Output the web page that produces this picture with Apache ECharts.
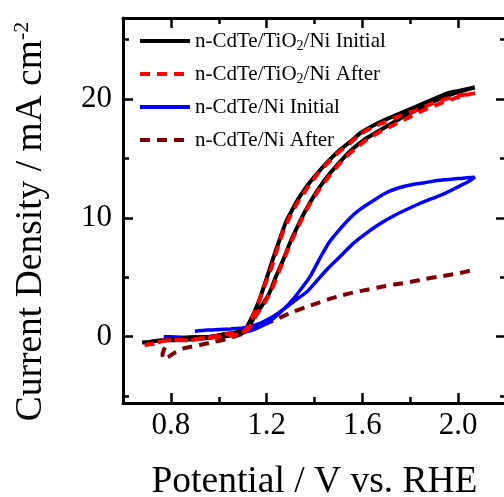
<!DOCTYPE html>
<html>
<head>
<meta charset="utf-8">
<script src="https://cdn.jsdelivr.net/npm/echarts@6/dist/echarts.min.js"></script>
<style>html,body{margin:0;padding:0;background:#fff}#c{width:504px;height:497px}</style>
</head>
<body>
<div id="c"></div>
<script>
// ---- data (Potential V vs RHE, Current density mA cm^-2) ----
const seriesNames = ['n-CdTe/TiO2/Ni Initial', 'n-CdTe/TiO2/Ni After', 'n-CdTe/Ni Initial', 'n-CdTe/Ni After'];
const xMajorTicks = [0.8, 1.2, 1.6, 2.0];
const xMinorTicks = [1.0, 1.4, 1.8, 2.2];
const yMajorTicks = [0, 10, 20];
const yMinorTicks = [-5, 5, 15, 25];

const tio2InitialData = [
  [0.68,-0.5],[0.72,-0.42],[0.76,-0.3],[0.81,-0.3],[0.86,-0.25],[0.91,-0.2],[0.96,-0.1],[1.01,0.0],[1.06,0.12],[1.10,0.3],
  [1.125,0.8],[1.15,1.7],[1.18,2.6],[1.21,3.6],[1.24,5.1],[1.27,6.5],[1.30,8.0],[1.33,9.3],[1.36,10.5],[1.40,11.9],
  [1.44,13.1],[1.48,14.1],[1.52,15.0],[1.56,15.8],[1.61,16.6],[1.66,17.2],[1.72,17.9],[1.78,18.6],[1.84,19.2],[1.90,19.8],
  [1.96,20.3],[2.02,20.7],[2.07,20.96],
  [2.01,20.7],[1.96,20.5],[1.90,20.0],[1.83,19.4],[1.76,18.8],[1.69,18.2],[1.64,17.7],[1.59,17.1],[1.55,16.4],[1.50,15.6],
  [1.45,14.6],[1.41,13.7],[1.37,12.7],[1.33,11.5],[1.30,10.4],[1.28,9.6],[1.255,8.2],[1.23,6.75],[1.20,4.9],[1.17,3.1],
  [1.145,1.9],[1.125,1.1],[1.11,0.55],[1.07,0.35],[1.02,0.2],[0.97,0.0],[0.93,-0.1],[0.88,-0.1],[0.83,-0.2],[0.78,-0.3],
  [0.74,-0.35],[0.70,-0.5]
];
const tio2AfterData = [
  [0.69,-0.7],[0.73,-0.6],[0.77,-0.35],[0.82,-0.25],[0.87,-0.3],[0.92,-0.15],[0.97,-0.05],[1.02,0.05],[1.07,0.15],[1.11,0.4],
  [1.135,1.0],[1.16,1.9],[1.19,2.8],[1.22,3.9],[1.25,5.4],[1.28,6.9],[1.31,8.3],[1.34,9.6],[1.37,10.8],[1.41,12.1],
  [1.45,13.2],[1.49,14.2],[1.53,15.1],[1.57,15.8],[1.62,16.6],[1.67,17.2],[1.73,17.8],[1.79,18.4],[1.85,19.0],[1.91,19.5],
  [1.97,19.95],[2.03,20.3],[2.07,20.5],
  [2.01,20.3],[1.95,20.0],[1.89,19.6],[1.82,19.0],[1.75,18.5],[1.69,18.0],[1.64,17.6],[1.59,17.0],[1.55,16.3],[1.50,15.5],
  [1.45,14.5],[1.41,13.6],[1.37,12.5],[1.33,11.3],[1.30,10.2],[1.27,8.9],[1.245,7.4],[1.22,5.8],[1.19,4.2],[1.165,2.8],
  [1.14,1.6],[1.12,0.8],[1.10,0.4],[1.05,0.25],[1.00,0.1],[0.95,-0.1],[0.90,-0.25],[0.85,-0.3],[0.80,-0.25],[0.75,-0.45],
  [0.70,-0.65]
];
const niInitialData = [
  [0.90,0.45],[0.95,0.55],[1.00,0.6],[1.05,0.65],[1.10,0.72],[1.13,0.85],[1.17,1.1],[1.21,1.5],[1.25,2.0],[1.29,2.6],
  [1.33,3.2],[1.37,3.8],[1.41,4.7],[1.45,5.6],[1.50,6.6],[1.56,7.8],[1.61,8.6],[1.67,9.45],[1.73,10.15],[1.78,10.65],
  [1.84,11.2],[1.89,11.6],[1.95,12.1],[2.00,12.6],[2.04,13.0],[2.07,13.4],
  [2.03,13.35],[1.98,13.25],[1.92,13.15],[1.86,12.95],[1.81,12.8],[1.75,12.5],[1.70,12.1],[1.65,11.5],[1.59,10.7],[1.55,10.0],
  [1.50,8.9],[1.46,7.9],[1.42,6.5],[1.38,5.0],[1.34,3.9],[1.30,2.9],[1.26,2.1],[1.22,1.4],[1.18,0.9],[1.14,0.55],
  [1.10,0.35],[1.05,0.2],[1.00,0.1],[0.95,0.0],[0.90,0.0],[0.85,-0.05],[0.80,0.0],[0.77,0.0]
];
const niAfterData = [
  [0.775,-0.9],[0.765,-1.5],[0.77,-1.9],[0.79,-1.7],[0.82,-1.3],[0.86,-0.95],[0.92,-0.7],[0.98,-0.45],[1.04,-0.15],[1.10,0.25],
  [1.17,0.85],[1.24,1.45],[1.30,2.0],[1.36,2.45],[1.41,2.8],[1.46,3.15],[1.51,3.45],[1.56,3.7],[1.62,3.95],[1.68,4.2],
  [1.74,4.4],[1.80,4.6],[1.86,4.85],[1.92,5.05],[1.98,5.25],[2.03,5.45],[2.07,5.65]
];

const FONT = 'Liberation Serif';
const chart = echarts.init(document.getElementById('c'), null, {renderer: 'canvas'});

function xAx(pos, major, showLine, showLabel) {
  return {
    type: 'value', min: 0.6, max: 2.2, position: pos,
    axisLine: {show: showLine, onZero: false, lineStyle: {color: '#000', width: 3}},
    axisTick: {show: true, inside: true, length: major ? 10 : 6, lineStyle: {color: '#000', width: 2.5},
               customValues: major ? xMajorTicks : xMinorTicks},
    axisLabel: {show: showLabel, customValues: xMajorTicks, formatter: v => v.toFixed(1),
                fontFamily: FONT, fontSize: 31, color: '#000', margin: 7},
    splitLine: {show: false}
  };
}
function yAx(pos, major, showLine, showLabel) {
  return {
    type: 'value', min: -5.58, max: 26.8, position: pos,
    axisLine: {show: showLine, onZero: false, lineStyle: {color: '#000', width: 3}},
    axisTick: {show: true, inside: true, length: major ? 10 : 6, lineStyle: {color: '#000', width: 2.5},
               customValues: major ? yMajorTicks : yMinorTicks},
    axisLabel: {show: showLabel, customValues: yMajorTicks, formatter: v => String(v),
                fontFamily: FONT, fontSize: 31, color: '#000', margin: 11},
    splitLine: {show: false}
  };
}

const xAxes = [xAx('bottom', true, true, true), xAx('bottom', false, false, false), xAx('top', true, true, false), xAx('top', false, false, false)];
Object.assign(xAxes[0], {name: 'Potential / V vs. RHE', nameLocation: 'middle', nameGap: 60,
  nameTextStyle: {fontFamily: FONT, fontSize: 37.5, color: '#000'}});
const yAxes = [yAx('left', true, true, true), yAx('left', false, false, false), yAx('right', true, true, false), yAx('right', false, false, false)];
Object.assign(yAxes[0], {name: 'Current Density / mA cm{sup|-2}', nameLocation: 'middle', nameGap: 72,
  nameTextStyle: {fontFamily: FONT, fontSize: 37.5, color: '#000', lineHeight: 40, padding: [0, 22, 0, 0],
    rich: {sup: {fontFamily: FONT, fontSize: 22, color: '#000', verticalAlign: 'top', lineHeight: 40}}}});

const colors = ['#000000', '#ff0000', '#0000ff', '#7f0000'];
const datas = [tio2InitialData, tio2AfterData, niInitialData, niAfterData];
const dashed = [false, true, false, true];
const widths = [4, 4, 3.5, 4];
const drawOrder = [3, 2, 0, 1];

const series = drawOrder.map(i => ({
  name: seriesNames[i], type: 'line', data: datas[i], symbol: 'none', smooth: 0.2,
  xAxisIndex: 0, yAxisIndex: 0, color: colors[i],
  lineStyle: {color: colors[i], width: widths[i], type: dashed[i] ? [10, 7] : 'solid'},
  z: 2 + drawOrder.indexOf(i)
}));

chart.setOption({
  animation: false,
  backgroundColor: '#fff',
  grid: {left: 123, right: -2, top: 18, bottom: 94, containLabel: false, outerBoundsMode: 'none'},
  xAxis: xAxes,
  yAxis: yAxes,
  legend: {
    data: seriesNames.map((n, i) => ({name: n, itemStyle: {opacity: 0},
      lineStyle: {color: colors[i], width: 4, type: dashed[i] ? [10, 7] : 'solid'}})),
    orient: 'vertical', left: 138, top: 29, padding: 0, itemWidth: 50, itemHeight: 14, itemGap: 9,
    formatter: n => n.replace('TiO2', 'TiO{sub|2}'),
    textStyle: {fontFamily: FONT, fontSize: 21, color: '#000', lineHeight: 24,
      rich: {sub: {fontFamily: FONT, fontSize: 14, color: '#000', verticalAlign: 'bottom', lineHeight: 24}}}
  },
  series: series
});
</script>
</body>
</html>
